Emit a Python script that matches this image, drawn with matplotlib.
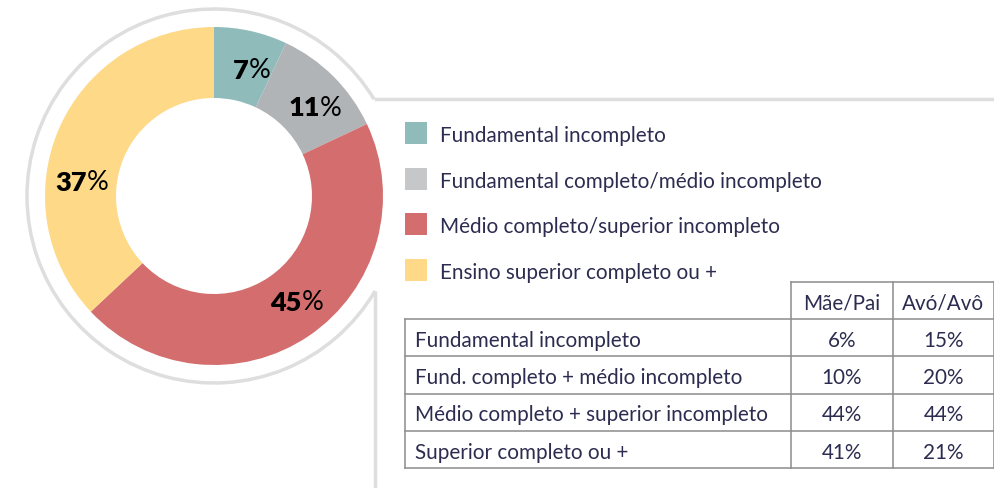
import numpy as np
import matplotlib.pyplot as plt
from matplotlib.patches import Arc, Rectangle

plt.rcParams['font.family'] = ['Lato', 'DejaVu Sans']

# DATA

categories = ['Fundamental incompleto',
              'Fundamental completo/médio incompleto',
              'Médio completo/superior incompleto',
              'Ensino superior completo ou +']
shares = [7, 11, 45, 37]
colors = ['#8fbbbb', '#b1b4b6', '#d46d6d', '#fdd988']
legend_colors = ['#8fbbbb', '#c6c7c9', '#d46d6d', '#fdd988']

table_rows = ['Fundamental incompleto',
              'Fund. completo + médio incompleto',
              'Médio completo + superior incompleto',
              'Superior completo ou +']
table_cols = ['Mãe/Pai', 'Avó/Avô']
mae_pai = [6, 10, 44, 41]
avo_avo = [15, 20, 44, 21]

text_color = '#2c2c50'
line_color = '#8c8c8c'
fs = 14.9
dy_txt = 2  # small downward nudge so text sits centred like the original

W, H = 995, 489
fig = plt.figure(figsize=(W / 100, H / 100), dpi=100)

##########################################################################################################################################

# Donut (drawn first so the overlay sits above it)

cx, cy, r_out, r_in = 214, 197, 169, 98
pax = fig.add_axes([(cx - r_out) / W, 1 - (cy + r_out) / H, 2 * r_out / W, 2 * r_out / H])
pax.pie(shares, colors=colors, startangle=90, counterclock=False, radius=1,
        wedgeprops=dict(width=1 - r_in / r_out, linewidth=0))
pax.set_xlim(-1, 1)
pax.set_ylim(-1, 1)
pax.axis('off')

# overlay axes in pixel coordinates (y grows downwards)
ax = fig.add_axes([0, 0, 1, 1])
ax.set_xlim(0, W)
ax.set_ylim(H, 0)
ax.patch.set_alpha(0)
ax.axis('off')

# value labels (placed by hand, like the original) - point is where number meets the % sign
label_pos = [(249, 71), (320, 108), (302, 303), (87, 183)]
for v, (lx, ly) in zip(shares, label_pos):
  ax.text(lx, ly, str(v), ha='right', va='center', fontsize=19.5,
          fontweight='heavy', color='black', zorder=5)
  ax.text(lx, ly, '%', ha='left', va='center', fontsize=19.5,
          color='black', zorder=5)

# light ring around donut, open on the right side, plus the callout lines
ring_r = 187
ax.add_patch(Arc((cx, cy), 2 * ring_r, 2 * ring_r, theta1=30.5, theta2=328.8,
                 color='#dedede', lw=2.5))
ax.plot([374, W], [100, 100], color='#dedede', lw=2.5, solid_capstyle='butt')
ax.plot([375, 375], [292, H], color='#dedede', lw=2.5, solid_capstyle='butt')

##########################################################################################################################################

# Legend

leg_y0, leg_dy = 134, 45.7
for i, (lab, c) in enumerate(zip(categories, legend_colors)):
  y = leg_y0 + i * leg_dy
  ax.add_patch(Rectangle((405, y - 11), 22, 22, color=c, lw=0))
  ax.text(440, y + dy_txt, lab, ha='left', va='center', fontsize=fs, color=text_color)

##########################################################################################################################################

# Table

x_left, x_c1, x_c2, x_right = 405, 791, 893, 994
y_head, y_top, row_h = 283, 320, 37.3
n = len(table_rows)
y_bot = y_top + n * row_h

lw = 1.1
ax.plot([x_c1, x_right], [y_head, y_head], color=line_color, lw=lw)
for k in range(n + 1):
  ax.plot([x_left, x_right], [y_top + k * row_h] * 2, color=line_color, lw=lw)
ax.plot([x_left, x_left], [y_top, y_bot], color=line_color, lw=lw)
for x in [x_c1, x_c2, x_right]:
  ax.plot([x, x], [y_head, y_bot], color=line_color, lw=lw)

col_centers = [(x_c1 + x_c2) / 2, (x_c2 + x_right) / 2]
for cname, xc in zip(table_cols, col_centers):
  ax.text(xc, (y_head + y_top) / 2 + dy_txt, cname, ha='center', va='center',
          fontsize=fs, color=text_color)

for k, (rname, a, b) in enumerate(zip(table_rows, mae_pai, avo_avo)):
  yc = y_top + (k + 0.5) * row_h + dy_txt
  ax.text(415, yc, rname, ha='left', va='center', fontsize=fs, color=text_color)
  ax.text(col_centers[0], yc, '%d%%' % a, ha='center', va='center', fontsize=fs, color=text_color)
  ax.text(col_centers[1], yc, '%d%%' % b, ha='center', va='center', fontsize=fs, color=text_color)

fig.savefig('out.png', dpi=100)
